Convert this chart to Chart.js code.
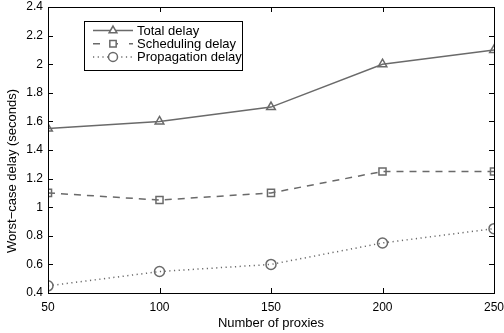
<!DOCTYPE html>
<html><head><meta charset="utf-8">
<script src="https://cdn.jsdelivr.net/npm/chart.js@4"></script>
<style>html,body{margin:0;padding:0;background:#fff}#wrap{width:504px;height:333px}</style>
</head><body><div id="wrap"><canvas id="c" width="504" height="333"></canvas></div>
<script>
const proxies = [50, 100, 150, 200, 250];
const totalDelay = [1.55, 1.6, 1.7, 2.0, 2.1];
const schedulingDelay = [1.1, 1.05, 1.1, 1.25, 1.25];
const propagationDelay = [0.45, 0.55, 0.6, 0.75, 0.85];
const seriesNames = ['Total delay', 'Scheduling delay', 'Propagation delay'];
const xTicks = [50, 100, 150, 200, 250];
const yTicks = [0.4, 0.6, 0.8, 1, 1.2, 1.4, 1.6, 1.8, 2, 2.2, 2.4];
const xTitle = 'Number of proxies';
const yTitle = 'Worst\u2212case delay (seconds)';

const FONT = '"Liberation Sans", Arial, sans-serif';
const GRAY = '#6a6a6a';
const toXY = arr => arr.map((v, i) => ({x: proxies[i], y: v}));

const styles = [
  {dash: [], pt: 'triangle'},
  {dash: [7, 6], pt: 'rect'},
  {dash: [1.2, 3.5], pt: 'circle'}
];
const seriesData = [totalDelay, schedulingDelay, propagationDelay];

const datasets = seriesData.map((d, i) => ({
  label: seriesNames[i],
  data: toXY(d),
  borderColor: GRAY,
  borderWidth: 1.5,
  borderDash: styles[i].dash,
  pointStyle: styles[i].pt,
  pointRadius: 5,
  pointBorderWidth: 1.5,
  pointBorderColor: GRAY,
  pointBackgroundColor: 'rgba(0,0,0,0)',
  tension: 0,
  fill: false
}));

const boxPlugin = {
  id: 'boxPlugin',
  afterDraw(chart) {
    const ctx = chart.ctx, a = chart.chartArea;
    const xs = chart.scales.x, ys = chart.scales.y;
    ctx.save();
    ctx.strokeStyle = '#000';
    ctx.lineWidth = 1;
    ctx.strokeRect(Math.round(a.left) + 0.5, Math.round(a.top) + 0.5, Math.round(a.right - a.left), Math.round(a.bottom - a.top));
    const tl = 5;
    ctx.beginPath();
    xTicks.forEach(v => {
      const px = Math.round(xs.getPixelForValue(v)) + 0.5;
      ctx.moveTo(px, a.bottom); ctx.lineTo(px, a.bottom - tl);
      ctx.moveTo(px, a.top); ctx.lineTo(px, a.top + tl);
    });
    yTicks.forEach(v => {
      const py = Math.round(ys.getPixelForValue(v)) + 0.5;
      ctx.moveTo(a.left, py); ctx.lineTo(a.left + tl, py);
      ctx.moveTo(a.right, py); ctx.lineTo(a.right - tl, py);
    });
    ctx.stroke();

    // y title
    ctx.save();
    ctx.translate(12, 171);
    ctx.rotate(-Math.PI / 2);
    ctx.font = '13px ' + FONT;
    ctx.fillStyle = '#000';
    ctx.textAlign = 'center';
    ctx.textBaseline = 'middle';
    ctx.fillText(yTitle, 0, 0);
    ctx.restore();

    // legend
    const bx = a.left + 36, by = a.top + 14, bw = 158, bh = 49;
    ctx.fillStyle = '#fff';
    ctx.fillRect(bx, by, bw, bh);
    ctx.strokeStyle = '#000';
    ctx.lineWidth = 1;
    ctx.strokeRect(Math.round(bx) + 0.5, Math.round(by) + 0.5, bw, bh);
    ctx.font = '13px ' + FONT;
    ctx.textBaseline = 'middle';
    ctx.textAlign = 'left';
    seriesNames.forEach((name, i) => {
      const cy = by + 9.5 + i * 13.2;
      ctx.strokeStyle = GRAY;
      ctx.lineWidth = 1.5;
      ctx.setLineDash(styles[i].dash.length ? (i === 1 ? [7, 11] : styles[i].dash) : []);
      ctx.beginPath();
      ctx.moveTo(bx + 9, cy); ctx.lineTo(bx + 49, cy);
      ctx.stroke();
      ctx.setLineDash([]);
      ctx.fillStyle = '#fff';
      ctx.strokeStyle = GRAY;
      Chart.helpers.drawPoint(ctx, {pointStyle: styles[i].pt, radius: 4.5, rotation: 0, borderWidth: 1.5}, bx + 29, cy);
      ctx.fillStyle = '#000';
      ctx.fillText(name, bx + 53, cy + 0.5);
    });
    ctx.restore();
  }
};

new Chart(document.getElementById('c'), {
  type: 'line',
  data: {datasets},
  plugins: [boxPlugin],
  options: {
    responsive: false,
    animation: false,
    layout: {padding: {top: 7, right: 10, left: 0, bottom: 0}},
    plugins: {legend: {display: false}, tooltip: {enabled: false}},
    scales: {
      x: {
        type: 'linear', min: 50, max: 250,
        afterBuildTicks: s => { s.ticks = xTicks.map(v => ({value: v})); },
        afterFit: s => { s.height = 40; s.paddingLeft = 0; s.paddingRight = 0; },
        grid: {display: false, drawTicks: false},
        border: {display: false},
        ticks: {color: '#000', font: {family: FONT, size: 12}, padding: 7, maxRotation: 0},
        title: {display: true, text: xTitle, color: '#000', font: {family: FONT, size: 13}, padding: {top: 2, bottom: 2}}
      },
      y: {
        type: 'linear', min: 0.4, max: 2.4,
        afterBuildTicks: s => { s.ticks = yTicks.map(v => ({value: v})); },
        afterFit: s => { s.width = 48; s.paddingTop = 0; s.paddingBottom = 0; },
        grid: {display: false, drawTicks: false},
        border: {display: false},
        ticks: {color: '#000', font: {family: FONT, size: 12}, padding: 5,
          callback: v => String(Math.round(v * 10) / 10)},
        title: {display: false}
      }
    }
  }
});
</script></body></html>
